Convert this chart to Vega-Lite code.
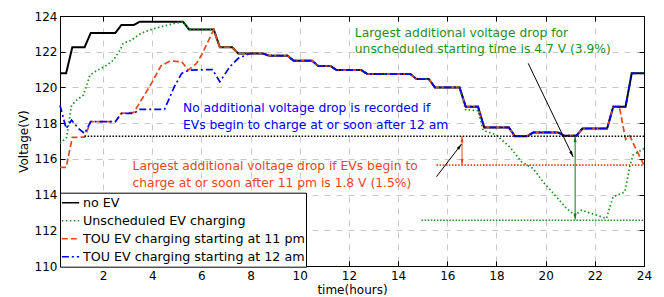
{
"$schema": "https://vega.github.io/schema/vega-lite/v6.json",
"width": 584, "height": 250,
"autosize": {"type": "none"},
"padding": {"left": 60, "top": 16, "right": 20, "bottom": 31},
"background": "white",
"datasets": {
"noev": [
{"series":"no EV","h":0.25,"v":120.8},{"series":"no EV","h":0.5,"v":120.8},{"series":"no EV","h":0.75,"v":122.25},{"series":"no EV","h":1.25,"v":122.25},{"series":"no EV","h":1.5,"v":123.05},{"series":"no EV","h":2.5,"v":123.05},{"series":"no EV","h":2.75,"v":123.5},{"series":"no EV","h":3.25,"v":123.5},{"series":"no EV","h":3.5,"v":123.68},{"series":"no EV","h":5.25,"v":123.68},{"series":"no EV","h":5.5,"v":123.25},{"series":"no EV","h":6.5,"v":123.25},{"series":"no EV","h":6.75,"v":122.25},{"series":"no EV","h":7.25,"v":122.25},{"series":"no EV","h":7.5,"v":121.9},{"series":"no EV","h":8.5,"v":121.9},{"series":"no EV","h":8.75,"v":121.78},{"series":"no EV","h":9.5,"v":121.78},{"series":"no EV","h":9.75,"v":121.5},{"series":"no EV","h":10.5,"v":121.5},{"series":"no EV","h":10.75,"v":121.2},{"series":"no EV","h":11.25,"v":121.2},{"series":"no EV","h":11.5,"v":120.97},{"series":"no EV","h":12.5,"v":120.97},{"series":"no EV","h":12.75,"v":120.75},{"series":"no EV","h":14.5,"v":120.75},{"series":"no EV","h":14.75,"v":120.47},{"series":"no EV","h":15.25,"v":120.47},{"series":"no EV","h":15.5,"v":120.0},{"series":"no EV","h":16.5,"v":120.0},{"series":"no EV","h":16.75,"v":118.92},{"series":"no EV","h":17.25,"v":118.92},{"series":"no EV","h":17.5,"v":117.76},{"series":"no EV","h":18.5,"v":117.76},{"series":"no EV","h":18.75,"v":117.27},{"series":"no EV","h":19.25,"v":117.27},{"series":"no EV","h":19.5,"v":117.48},{"series":"no EV","h":20.5,"v":117.48},{"series":"no EV","h":20.75,"v":117.3},{"series":"no EV","h":21.25,"v":117.3},{"series":"no EV","h":21.5,"v":117.7},{"series":"no EV","h":22.5,"v":117.7},{"series":"no EV","h":22.75,"v":118.92},{"series":"no EV","h":23.25,"v":118.92},{"series":"no EV","h":23.5,"v":120.79},{"series":"no EV","h":24,"v":120.79}
],
"uns": [
{"series":"Unscheduled EV charging","h":0.25,"v":116.86},{"series":"Unscheduled EV charging","h":0.52,"v":117.2},{"series":"Unscheduled EV charging","h":0.72,"v":119.0},{"series":"Unscheduled EV charging","h":0.93,"v":119.29},{"series":"Unscheduled EV charging","h":1.2,"v":119.57},{"series":"Unscheduled EV charging","h":1.34,"v":120.13},{"series":"Unscheduled EV charging","h":1.47,"v":120.69},{"series":"Unscheduled EV charging","h":1.67,"v":120.88},{"series":"Unscheduled EV charging","h":2.15,"v":121.25},{"series":"Unscheduled EV charging","h":2.42,"v":121.53},{"series":"Unscheduled EV charging","h":2.69,"v":122.09},{"series":"Unscheduled EV charging","h":2.82,"v":122.47},{"series":"Unscheduled EV charging","h":3.16,"v":122.65},{"series":"Unscheduled EV charging","h":3.43,"v":122.93},{"series":"Unscheduled EV charging","h":3.7,"v":123.12},{"series":"Unscheduled EV charging","h":4.11,"v":123.31},{"series":"Unscheduled EV charging","h":4.65,"v":123.5},{"series":"Unscheduled EV charging","h":5.25,"v":123.68},{"series":"Unscheduled EV charging","h":5.5,"v":123.25},{"series":"Unscheduled EV charging","h":6.5,"v":123.25},{"series":"Unscheduled EV charging","h":6.75,"v":122.25},{"series":"Unscheduled EV charging","h":7.25,"v":122.25},{"series":"Unscheduled EV charging","h":7.5,"v":121.9},{"series":"Unscheduled EV charging","h":8.5,"v":121.9},{"series":"Unscheduled EV charging","h":8.75,"v":121.78},{"series":"Unscheduled EV charging","h":9.5,"v":121.78},{"series":"Unscheduled EV charging","h":9.75,"v":121.5},{"series":"Unscheduled EV charging","h":10.5,"v":121.5},{"series":"Unscheduled EV charging","h":10.75,"v":121.2},{"series":"Unscheduled EV charging","h":11.25,"v":121.2},{"series":"Unscheduled EV charging","h":11.5,"v":120.97},{"series":"Unscheduled EV charging","h":12.5,"v":120.97},{"series":"Unscheduled EV charging","h":12.75,"v":120.75},{"series":"Unscheduled EV charging","h":14.5,"v":120.75},{"series":"Unscheduled EV charging","h":14.75,"v":120.47},{"series":"Unscheduled EV charging","h":15.25,"v":120.47},{"series":"Unscheduled EV charging","h":15.5,"v":120.0},{"series":"Unscheduled EV charging","h":16.5,"v":120.0},{"series":"Unscheduled EV charging","h":16.75,"v":118.75},{"series":"Unscheduled EV charging","h":17.25,"v":118.7},{"series":"Unscheduled EV charging","h":17.46,"v":117.6},{"series":"Unscheduled EV charging","h":18.0,"v":117.33},{"series":"Unscheduled EV charging","h":18.54,"v":116.67},{"series":"Unscheduled EV charging","h":19.02,"v":115.83},{"series":"Unscheduled EV charging","h":19.49,"v":115.46},{"series":"Unscheduled EV charging","h":19.9,"v":114.71},{"series":"Unscheduled EV charging","h":20.44,"v":113.87},{"series":"Unscheduled EV charging","h":20.85,"v":113.22},{"series":"Unscheduled EV charging","h":21.19,"v":112.85},{"series":"Unscheduled EV charging","h":21.46,"v":113.13},{"series":"Unscheduled EV charging","h":21.86,"v":112.94},{"series":"Unscheduled EV charging","h":22.47,"v":112.66},{"series":"Unscheduled EV charging","h":22.74,"v":113.87},{"series":"Unscheduled EV charging","h":23.22,"v":114.15},{"series":"Unscheduled EV charging","h":23.42,"v":115.55},{"series":"Unscheduled EV charging","h":23.55,"v":116.21},{"series":"Unscheduled EV charging","h":24,"v":116.58}
],
"tou11": [
{"series":"TOU EV charging starting at 11 pm","h":0.25,"v":115.52},{"series":"TOU EV charging starting at 11 pm","h":0.5,"v":115.52},{"series":"TOU EV charging starting at 11 pm","h":0.75,"v":117.2},{"series":"TOU EV charging starting at 11 pm","h":1.25,"v":117.22},{"series":"TOU EV charging starting at 11 pm","h":1.5,"v":118.08},{"series":"TOU EV charging starting at 11 pm","h":2.5,"v":118.08},{"series":"TOU EV charging starting at 11 pm","h":2.75,"v":118.55},{"series":"TOU EV charging starting at 11 pm","h":3.25,"v":118.6},{"series":"TOU EV charging starting at 11 pm","h":4.0,"v":120.3},{"series":"TOU EV charging starting at 11 pm","h":4.35,"v":121.2},{"series":"TOU EV charging starting at 11 pm","h":4.72,"v":121.48},{"series":"TOU EV charging starting at 11 pm","h":5.2,"v":121.44},{"series":"TOU EV charging starting at 11 pm","h":5.47,"v":120.97},{"series":"TOU EV charging starting at 11 pm","h":5.8,"v":121.35},{"series":"TOU EV charging starting at 11 pm","h":6.0,"v":121.8},{"series":"TOU EV charging starting at 11 pm","h":6.5,"v":123.22},{"series":"TOU EV charging starting at 11 pm","h":6.75,"v":122.25},{"series":"TOU EV charging starting at 11 pm","h":7.25,"v":122.25},{"series":"TOU EV charging starting at 11 pm","h":7.5,"v":121.9},{"series":"TOU EV charging starting at 11 pm","h":8.5,"v":121.9},{"series":"TOU EV charging starting at 11 pm","h":8.75,"v":121.78},{"series":"TOU EV charging starting at 11 pm","h":9.5,"v":121.78},{"series":"TOU EV charging starting at 11 pm","h":9.75,"v":121.5},{"series":"TOU EV charging starting at 11 pm","h":10.5,"v":121.5},{"series":"TOU EV charging starting at 11 pm","h":10.75,"v":121.2},{"series":"TOU EV charging starting at 11 pm","h":11.25,"v":121.2},{"series":"TOU EV charging starting at 11 pm","h":11.5,"v":120.97},{"series":"TOU EV charging starting at 11 pm","h":12.5,"v":120.97},{"series":"TOU EV charging starting at 11 pm","h":12.75,"v":120.75},{"series":"TOU EV charging starting at 11 pm","h":14.5,"v":120.75},{"series":"TOU EV charging starting at 11 pm","h":14.75,"v":120.47},{"series":"TOU EV charging starting at 11 pm","h":15.25,"v":120.47},{"series":"TOU EV charging starting at 11 pm","h":15.5,"v":120.0},{"series":"TOU EV charging starting at 11 pm","h":16.5,"v":120.0},{"series":"TOU EV charging starting at 11 pm","h":16.75,"v":118.92},{"series":"TOU EV charging starting at 11 pm","h":17.25,"v":118.92},{"series":"TOU EV charging starting at 11 pm","h":17.5,"v":117.76},{"series":"TOU EV charging starting at 11 pm","h":18.5,"v":117.76},{"series":"TOU EV charging starting at 11 pm","h":18.75,"v":117.27},{"series":"TOU EV charging starting at 11 pm","h":19.25,"v":117.27},{"series":"TOU EV charging starting at 11 pm","h":19.5,"v":117.48},{"series":"TOU EV charging starting at 11 pm","h":20.5,"v":117.48},{"series":"TOU EV charging starting at 11 pm","h":20.75,"v":117.3},{"series":"TOU EV charging starting at 11 pm","h":21.25,"v":117.3},{"series":"TOU EV charging starting at 11 pm","h":21.5,"v":117.7},{"series":"TOU EV charging starting at 11 pm","h":22.5,"v":117.7},{"series":"TOU EV charging starting at 11 pm","h":22.75,"v":118.92},{"series":"TOU EV charging starting at 11 pm","h":23.0,"v":118.9},{"series":"TOU EV charging starting at 11 pm","h":23.25,"v":117.1},{"series":"TOU EV charging starting at 11 pm","h":23.42,"v":117.3},{"series":"TOU EV charging starting at 11 pm","h":23.62,"v":116.7},{"series":"TOU EV charging starting at 11 pm","h":24,"v":115.65}
],
"tou12": [
{"series":"TOU EV charging starting at 12 am","h":0.25,"v":119.0},{"series":"TOU EV charging starting at 12 am","h":0.5,"v":117.7},{"series":"TOU EV charging starting at 12 am","h":0.72,"v":118.17},{"series":"TOU EV charging starting at 12 am","h":1.0,"v":117.7},{"series":"TOU EV charging starting at 12 am","h":1.25,"v":117.42},{"series":"TOU EV charging starting at 12 am","h":1.5,"v":118.08},{"series":"TOU EV charging starting at 12 am","h":2.5,"v":118.08},{"series":"TOU EV charging starting at 12 am","h":2.75,"v":118.55},{"series":"TOU EV charging starting at 12 am","h":3.25,"v":118.55},{"series":"TOU EV charging starting at 12 am","h":3.5,"v":118.77},{"series":"TOU EV charging starting at 12 am","h":4.5,"v":118.77},{"series":"TOU EV charging starting at 12 am","h":4.9,"v":120.04},{"series":"TOU EV charging starting at 12 am","h":5.2,"v":120.79},{"series":"TOU EV charging starting at 12 am","h":5.5,"v":120.97},{"series":"TOU EV charging starting at 12 am","h":6.45,"v":121.0},{"series":"TOU EV charging starting at 12 am","h":6.75,"v":120.32},{"series":"TOU EV charging starting at 12 am","h":7.16,"v":121.16},{"series":"TOU EV charging starting at 12 am","h":7.5,"v":121.63},{"series":"TOU EV charging starting at 12 am","h":7.97,"v":121.9},{"series":"TOU EV charging starting at 12 am","h":8.5,"v":121.9},{"series":"TOU EV charging starting at 12 am","h":8.75,"v":121.78},{"series":"TOU EV charging starting at 12 am","h":9.5,"v":121.78},{"series":"TOU EV charging starting at 12 am","h":9.75,"v":121.5},{"series":"TOU EV charging starting at 12 am","h":10.5,"v":121.5},{"series":"TOU EV charging starting at 12 am","h":10.75,"v":121.2},{"series":"TOU EV charging starting at 12 am","h":11.25,"v":121.2},{"series":"TOU EV charging starting at 12 am","h":11.5,"v":120.97},{"series":"TOU EV charging starting at 12 am","h":12.5,"v":120.97},{"series":"TOU EV charging starting at 12 am","h":12.75,"v":120.75},{"series":"TOU EV charging starting at 12 am","h":14.5,"v":120.75},{"series":"TOU EV charging starting at 12 am","h":14.75,"v":120.47},{"series":"TOU EV charging starting at 12 am","h":15.25,"v":120.47},{"series":"TOU EV charging starting at 12 am","h":15.5,"v":120.0},{"series":"TOU EV charging starting at 12 am","h":16.5,"v":120.0},{"series":"TOU EV charging starting at 12 am","h":16.75,"v":118.92},{"series":"TOU EV charging starting at 12 am","h":17.25,"v":118.92},{"series":"TOU EV charging starting at 12 am","h":17.5,"v":117.76},{"series":"TOU EV charging starting at 12 am","h":18.5,"v":117.76},{"series":"TOU EV charging starting at 12 am","h":18.75,"v":117.27},{"series":"TOU EV charging starting at 12 am","h":19.25,"v":117.27},{"series":"TOU EV charging starting at 12 am","h":19.5,"v":117.48},{"series":"TOU EV charging starting at 12 am","h":20.5,"v":117.48},{"series":"TOU EV charging starting at 12 am","h":20.75,"v":117.3},{"series":"TOU EV charging starting at 12 am","h":21.25,"v":117.3},{"series":"TOU EV charging starting at 12 am","h":21.5,"v":117.7},{"series":"TOU EV charging starting at 12 am","h":22.5,"v":117.7},{"series":"TOU EV charging starting at 12 am","h":22.75,"v":118.92},{"series":"TOU EV charging starting at 12 am","h":23.25,"v":118.92},{"series":"TOU EV charging starting at 12 am","h":23.5,"v":120.79},{"series":"TOU EV charging starting at 12 am","h":24,"v":120.79}
]
},
"layer": [
{
"data": {"name": "noev"},
"mark": {"type": "line", "strokeWidth": 2},
"encoding": {
"x": {"field": "h", "type": "quantitative", "scale": {"domain": [0.25, 24], "nice": false, "zero": false},
 "axis": {"orient": "bottom", "values": [2,4,6,8,10,12,14,16,18,20,22,24], "tickSize": -5, "labelPadding": 9, "grid": true, "title": "time(hours)", "titlePadding": 3, "labelFlush": false}},
"y": {"field": "v", "type": "quantitative", "scale": {"domain": [110, 124], "nice": false, "zero": false},
 "axis": {"orient": "left", "values": [110,112,114,116,118,120,122,124], "tickSize": -5, "labelPadding": 8, "grid": true, "title": "Voltage(V)", "titlePadding": 4, "labelFlush": false}},
"color": {"field": "series", "type": "nominal",
 "scale": {"domain": ["no EV", "Unscheduled EV charging", "TOU EV charging starting at 11 pm", "TOU EV charging starting at 12 am"], "range": ["#000000", "#1f8f1f", "#e8461e", "#0000ff"]},
 "legend": {"orient": "none", "legendX": 0, "legendY": 176.7, "title": null, "direction": "vertical", "fillColor": "white", "strokeColor": "black", "padding": 1, "symbolType": "stroke", "symbolSize": 300, "symbolStrokeWidth": 1.6, "labelFontSize": 12.7, "labelFont": "DejaVu Sans", "labelColor": "black", "labelOffset": 3, "clipHeight": 18, "rowPadding": 0, "labelLimit": 300}},
"strokeDash": {"field": "series", "type": "nominal",
 "scale": {"domain": ["no EV", "Unscheduled EV charging", "TOU EV charging starting at 11 pm", "TOU EV charging starting at 12 am"], "range": [[1, 0], [1.5, 2.5], [6, 3], [7, 3, 2, 3]]}}
}
},
{
"data": {"name": "uns"},
"mark": {"type": "line", "strokeWidth": 1.7},
"encoding": {
"x": {"field": "h", "type": "quantitative", "scale": {"domain": [0.25, 24], "nice": false, "zero": false}, "axis": null},
"y": {"field": "v", "type": "quantitative", "scale": {"domain": [110, 124], "nice": false, "zero": false}, "axis": null},
"color": {"field": "series", "type": "nominal"},
"strokeDash": {"field": "series", "type": "nominal"}
}
},
{
"data": {"name": "tou11"},
"mark": {"type": "line", "strokeWidth": 1.7},
"encoding": {
"x": {"field": "h", "type": "quantitative", "scale": {"domain": [0.25, 24], "nice": false, "zero": false}, "axis": null},
"y": {"field": "v", "type": "quantitative", "scale": {"domain": [110, 124], "nice": false, "zero": false}, "axis": null},
"color": {"field": "series", "type": "nominal"},
"strokeDash": {"field": "series", "type": "nominal"}
}
},
{
"data": {"name": "tou12"},
"mark": {"type": "line", "strokeWidth": 1.7},
"encoding": {
"x": {"field": "h", "type": "quantitative", "scale": {"domain": [0.25, 24], "nice": false, "zero": false}, "axis": null},
"y": {"field": "v", "type": "quantitative", "scale": {"domain": [110, 124], "nice": false, "zero": false}, "axis": null},
"color": {"field": "series", "type": "nominal"},
"strokeDash": {"field": "series", "type": "nominal"}
}
},
{
"data": {"values": [{"h": 1.25, "v": 117.27}, {"h": 24, "v": 117.27}]},
"mark": {"type": "line", "color": "black", "strokeWidth": 1.6, "strokeDash": [1.5, 1.6]},
"encoding": {"x": {"field": "h", "type": "quantitative", "axis": null}, "y": {"field": "v", "type": "quantitative", "axis": null}}
},
{
"data": {"values": [{"h": 15.56, "v": 115.65}, {"h": 24, "v": 115.65}]},
"mark": {"type": "line", "color": "#e8461e", "strokeWidth": 1.6, "strokeDash": [1.5, 1.6]},
"encoding": {"x": {"field": "h", "type": "quantitative", "axis": null}, "y": {"field": "v", "type": "quantitative", "axis": null}}
},
{
"data": {"values": [{"h": 14.95, "v": 112.56}, {"h": 24, "v": 112.56}]},
"mark": {"type": "line", "color": "#1f8f1f", "strokeWidth": 1.6, "strokeDash": [1.5, 1.6]},
"encoding": {"x": {"field": "h", "type": "quantitative", "axis": null}, "y": {"field": "v", "type": "quantitative", "axis": null}}
},
{
"data": {"values": [{"h": 16.6, "v": 117.27}, {"h": 16.6, "v": 115.65}]},
"mark": {"type": "line", "color": "#e8461e", "strokeWidth": 1},
"encoding": {"x": {"field": "h", "type": "quantitative", "axis": null}, "y": {"field": "v", "type": "quantitative", "axis": null}}
},
{
"data": {"values": [{"h": 21.2, "v": 117.27}, {"h": 21.2, "v": 112.6}]},
"mark": {"type": "line", "color": "#0f7a0f", "strokeWidth": 1},
"encoding": {"x": {"field": "h", "type": "quantitative", "axis": null}, "y": {"field": "v", "type": "quantitative", "axis": null}}
},
{
"data": {"values": [{"a": "A1", "h": 15.56, "v": 115.0}, {"a": "A1", "h": 16.58, "v": 116.83}, {"a": "A2", "h": 19.29, "v": 121.35}, {"a": "A2", "h": 21.12, "v": 116.11}]},
"mark": {"type": "line", "color": "black", "strokeWidth": 1},
"encoding": {"x": {"field": "h", "type": "quantitative", "axis": null}, "y": {"field": "v", "type": "quantitative", "axis": null}, "detail": {"field": "a", "type": "nominal"}}
},
{
"data": {"values": [{"h": 16.6, "v": 117.27}]},
"mark": {"type": "point", "shape": "M0,0L0.6,2.4L-0.6,2.4Z", "filled": true, "size": 25, "angle": 0, "color": "#e8461e", "opacity": 1},
"encoding": {"x": {"field": "h", "type": "quantitative", "axis": null}, "y": {"field": "v", "type": "quantitative", "axis": null}}
},
{
"data": {"values": [{"h": 16.6, "v": 115.65}]},
"mark": {"type": "point", "shape": "M0,0L0.6,2.4L-0.6,2.4Z", "filled": true, "size": 25, "angle": 180, "color": "#e8461e", "opacity": 1},
"encoding": {"x": {"field": "h", "type": "quantitative", "axis": null}, "y": {"field": "v", "type": "quantitative", "axis": null}}
},
{
"data": {"values": [{"h": 21.2, "v": 117.27}]},
"mark": {"type": "point", "shape": "M0,0L0.6,2.4L-0.6,2.4Z", "filled": true, "size": 25, "angle": 0, "color": "#0f7a0f", "opacity": 1},
"encoding": {"x": {"field": "h", "type": "quantitative", "axis": null}, "y": {"field": "v", "type": "quantitative", "axis": null}}
},
{
"data": {"values": [{"h": 21.2, "v": 112.6}]},
"mark": {"type": "point", "shape": "M0,0L0.6,2.4L-0.6,2.4Z", "filled": true, "size": 25, "angle": 180, "color": "#0f7a0f", "opacity": 1},
"encoding": {"x": {"field": "h", "type": "quantitative", "axis": null}, "y": {"field": "v", "type": "quantitative", "axis": null}}
},
{
"data": {"values": [{"h": 16.58, "v": 116.83}]},
"mark": {"type": "point", "shape": "M0,0L0.6,2.4L-0.6,2.4Z", "filled": true, "size": 25, "angle": 37, "color": "black", "opacity": 1},
"encoding": {"x": {"field": "h", "type": "quantitative", "axis": null}, "y": {"field": "v", "type": "quantitative", "axis": null}}
},
{
"data": {"values": [{"h": 21.12, "v": 116.11}]},
"mark": {"type": "point", "shape": "M0,0L0.6,2.4L-0.6,2.4Z", "filled": true, "size": 25, "angle": 154, "color": "black", "opacity": 1},
"encoding": {"x": {"field": "h", "type": "quantitative", "axis": null}, "y": {"field": "v", "type": "quantitative", "axis": null}}
},
{
"data": {"values": [{"t": "Largest additional voltage drop for", "h": 12.24, "v": 123.06}, {"t": "unscheduled starting time is 4.7 V (3.9%)", "h": 12.24, "v": 122.13}]},
"mark": {"type": "text", "align": "left", "baseline": "middle", "font": "DejaVu Sans", "fontSize": 12.3, "color": "#1f8f1f"},
"encoding": {"x": {"field": "h", "type": "quantitative", "axis": null}, "y": {"field": "v", "type": "quantitative", "axis": null}, "text": {"field": "t"}}
},
{
"data": {"values": [{"t": "No additional voltage drop is recorded if", "h": 5.25, "v": 118.84}, {"t": "EVs begin to charge at or soon after 12 am", "h": 5.25, "v": 117.89}]},
"mark": {"type": "text", "align": "left", "baseline": "middle", "font": "DejaVu Sans", "fontSize": 12.3, "color": "#0000ff"},
"encoding": {"x": {"field": "h", "type": "quantitative", "axis": null}, "y": {"field": "v", "type": "quantitative", "axis": null}, "text": {"field": "t"}}
},
{
"data": {"values": [{"t": "Largest additional voltage drop if EVs begin to", "h": 3.2, "v": 115.59}, {"t": "charge at or soon after 11 pm is 1.8 V (1.5%)", "h": 3.2, "v": 114.66}]},
"mark": {"type": "text", "align": "left", "baseline": "middle", "font": "DejaVu Sans", "fontSize": 12.3, "color": "#e8461e"},
"encoding": {"x": {"field": "h", "type": "quantitative", "axis": null}, "y": {"field": "v", "type": "quantitative", "axis": null}, "text": {"field": "t"}}
},
{
"data": {"values": [{"h": 0.25, "v": 110}]},
"mark": {"type": "point", "opacity": 0},
"encoding": {
"x": {"field": "h", "type": "quantitative", "axis": {"orient": "top", "values": [2,4,6,8,10,12,14,16,18,20,22,24], "tickSize": -5, "labels": false, "grid": false, "title": null, "zindex": 1}},
"y": {"field": "v", "type": "quantitative", "axis": {"orient": "right", "values": [110,112,114,116,118,120,122,124], "tickSize": -5, "labels": false, "grid": false, "title": null, "zindex": 1}}
}
}
],
"resolve": {"axis": {"x": "independent", "y": "independent"}},
"config": {
"view": {"stroke": "black", "strokeWidth": 1},
"font": "DejaVu Sans",
"axis": {"labelFont": "DejaVu Sans", "titleFont": "DejaVu Sans", "labelFontSize": 12, "titleFontSize": 12, "titleFontWeight": "normal", "labelColor": "black", "titleColor": "black", "domainColor": "black", "tickColor": "black", "gridColor": "#c8c8c8", "gridDash": [6, 6], "gridWidth": 1}
}
}
